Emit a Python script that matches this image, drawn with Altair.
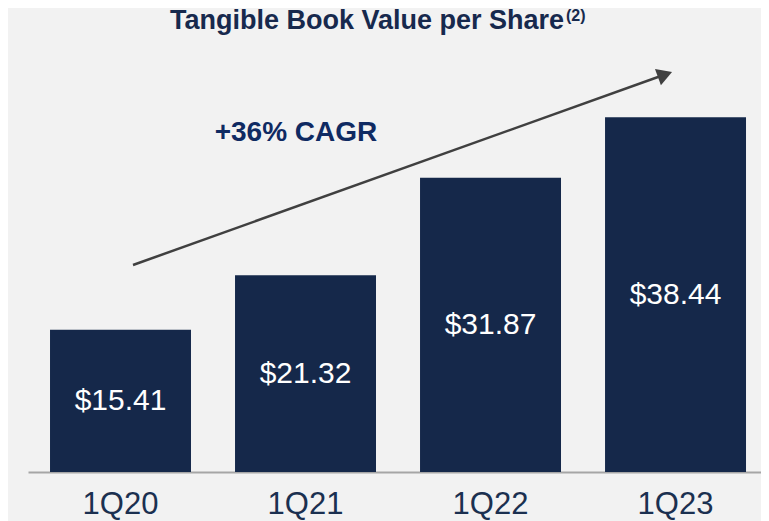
import altair as alt
import pandas as pd

# ---- data ----
quarters = ["1Q20", "1Q21", "1Q22", "1Q23"]
tbv_values = [15.41, 21.32, 31.87, 38.44]
value_labels = ["$15.41", "$21.32", "$31.87", "$38.44"]
title_text = ["Tangible Book Value per Share"]
title_note = ["(2)"]
cagr_text = ["+36% CAGR"]

df = pd.DataFrame({"q": quarters, "v": tbv_values, "label": value_labels})

NAVY = "#15284A"
FONT = "Liberation Sans"

xscale = alt.Scale(domain=quarters, paddingInner=0.238, paddingOuter=0.1, align=0.595)
yscale = alt.Scale(domain=[0, 48], nice=False, zero=True)

base = alt.Chart(df)

bars = base.mark_bar(color=NAVY).encode(
    x=alt.X(
        "q:N",
        scale=xscale,
        sort=quarters,
        axis=alt.Axis(
            title=None,
            labelAngle=0,
            labelFontSize=31,
            labelColor="#1B3050",
            labelFont=FONT,
            labelPadding=17,
            ticks=False,
            domainColor="#A6A6A6",
            domainWidth=2,
            grid=False,
        ),
    ),
    y=alt.Y("v:Q", scale=yscale, axis=None),
)

vals = base.transform_calculate(mid="datum.v / 2").mark_text(
    color="white", fontSize=30, font=FONT, baseline="middle"
).encode(
    x=alt.X("q:N", scale=xscale, sort=quarters),
    y=alt.Y("mid:Q", scale=yscale),
    text="label:N",
)

one = alt.Chart(pd.DataFrame({"a": [0]}))

arrow_line = one.mark_rule(color="#404040", strokeWidth=2.5).encode(
    x=alt.value(105), x2=alt.value(637), y=alt.value(236), y2=alt.value(45.5)
)
arrow_head = one.mark_point(
    shape="triangle-up", filled=True, color="#404040", opacity=1, size=300, angle=70
).encode(x=alt.value(637), y=alt.value(45.5))

cagr = alt.Chart(pd.DataFrame({"t": cagr_text})).mark_text(
    fontSize=28, fontWeight="bold", font=FONT, color="#0F2A62", baseline="middle"
).encode(text="t:N", x=alt.value(268), y=alt.value(104))

title = alt.Chart(pd.DataFrame({"t": title_text})).mark_text(
    fontSize=27, fontWeight="bold", font=FONT, color="#17294D", align="left", baseline="middle"
).encode(text="t:N", x=alt.value(142), y=alt.value(-8))

note = alt.Chart(pd.DataFrame({"t": title_note})).mark_text(
    fontSize=16, fontWeight="bold", font=FONT, color="#17294D", align="left", baseline="middle"
).encode(text="t:N", x=alt.value(538), y=alt.value(-13))

chart = (
    alt.layer(bars, vals, arrow_line, arrow_head, cagr, title, note)
    .properties(
        width=733,
        height=443,
        padding={"left": 20, "top": 21, "right": 0, "bottom": 49},
        autosize=alt.AutoSizeParams(type="none"),
        background="#F2F2F2",
    )
    .configure_view(stroke=None)
)

chart.save("out.html", embed_options={"renderer": "svg", "actions": False})
